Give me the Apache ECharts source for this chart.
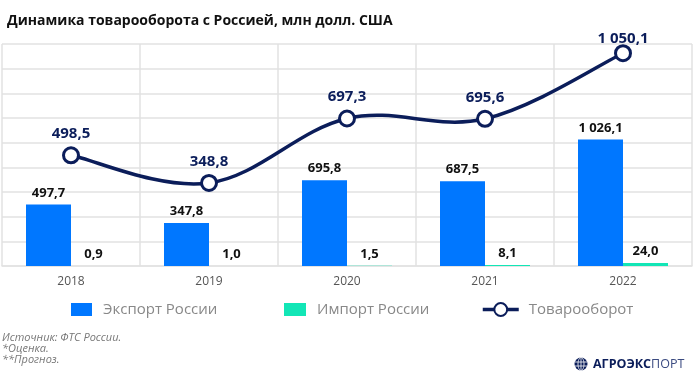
<!DOCTYPE html>
<html>
<head>
<meta charset="utf-8">
<script src="https://cdn.jsdelivr.net/npm/echarts@6/dist/echarts.min.js"></script>
<style>
  html, body { margin: 0; padding: 0; background: #fff; }
  #chart { width: 695px; height: 376px; }
</style>
</head>
<body>
<div id="chart"></div>
<script>
  // данные
  const years = ['2018', '2019', '2020', '2021', '2022'];
  const exportRu = [497.7, 347.8, 695.8, 687.5, 1026.1];
  const importRu = [0.9, 1.0, 1.5, 8.1, 24.0];
  const turnover = [498.5, 348.8, 697.3, 695.6, 1050.1];

  const FONT = '"Open Sans", "Noto Sans", sans-serif';
  const NAVY = '#0b1d5a';

  // 1026.1 -> "1 026,1"
  function fmt(v) {
    const parts = v.toFixed(1).split('.');
    const intPart = parts[0].replace(/\B(?=(\d{3})+(?!\d))/g, ' ');
    return intPart + ',' + parts[1];
  }

  const myChart = echarts.init(document.getElementById('chart'));

  const lineData = turnover.map((v, i) => {
    if (i === turnover.length - 1) {
      return { value: v, label: { distance: -2 } };
    }
    return v;
  });

  // кривая Catmull-Rom через точки товарооборота (координаты берём из осей)
  function renderCurve(params, api) {
    if (params.dataIndex !== 0) return null;
    const pts = turnover.map((v, i) => api.coord([i, v]));
    const t = 0.18;
    let d = 'M' + pts[0][0] + ' ' + pts[0][1];
    for (let i = 0; i < pts.length - 1; i++) {
      const p0 = pts[Math.max(i - 1, 0)];
      const p1 = pts[i];
      const p2 = pts[i + 1];
      const p3 = pts[Math.min(i + 2, pts.length - 1)];
      const c1x = p1[0] + (p2[0] - p0[0]) * t;
      const c1y = p1[1] + (p2[1] - p0[1]) * t;
      const c2x = p2[0] - (p3[0] - p1[0]) * t;
      const c2y = p2[1] - (p3[1] - p1[1]) * t;
      d += ' C' + c1x + ' ' + c1y + ' ' + c2x + ' ' + c2y + ' ' + p2[0] + ' ' + p2[1];
    }
    return {
      type: 'path',
      shape: { pathData: d },
      style: { fill: 'none', stroke: NAVY, lineWidth: 3.5 }
    };
  }

  myChart.setOption({
    animation: false,
    title: {
      text: 'Динамика товарооборота с Россией, млн долл. США',
      left: 2,
      top: 9,
      textStyle: { fontFamily: FONT, fontSize: 14, fontWeight: 'bold', color: '#111' }
    },
    legend: [
      {
        data: ['Экспорт России'], left: 66, top: 297,
        itemWidth: 21, itemHeight: 13, icon: 'rect',
        textStyle: { fontFamily: FONT, fontSize: 15, color: '#888', padding: [0, 0, 0, 6] }
      },
      {
        data: ['Импорт России'], left: 279, top: 297,
        itemWidth: 22, itemHeight: 13, icon: 'rect',
        textStyle: { fontFamily: FONT, fontSize: 15, color: '#888', padding: [0, 0, 0, 6] }
      },
      {
        data: ['Товарооборот'], left: 476, top: 297,
        itemWidth: 36, itemHeight: 16,
        lineStyle: { color: NAVY, width: 3.5, opacity: 1 },
        textStyle: { fontFamily: FONT, fontSize: 15, color: '#888', padding: [0, 0, 0, 5] }
      }
    ],
    grid: { left: 2, right: 3, top: 44, bottom: 110, containLabel: false },
    xAxis: {
      type: 'category',
      data: years,
      axisTick: { show: false },
      axisLine: { lineStyle: { color: '#e2e2e2', width: 1.5 } },
      axisLabel: { fontFamily: FONT, fontSize: 12, color: '#555', margin: 10 },
      splitLine: { show: true, lineStyle: { color: '#e2e2e2', width: 1.5 } }
    },
    yAxis: [
      {
        type: 'value', min: 0, max: 1800, interval: 200,
        axisLabel: { show: false },
        axisLine: { show: false },
        axisTick: { show: false },
        splitLine: { show: true, lineStyle: { color: '#e2e2e2', width: 1.5 } }
      },
      {
        type: 'value', min: -100, max: 1100, interval: 100,
        show: false,
        splitLine: { show: false }
      }
    ],
    series: [
      {
        name: 'Экспорт России',
        type: 'bar',
        barWidth: 45,
        barGap: '0%',
        itemStyle: { color: '#0077ff' },
        label: {
          show: true, position: 'top', distance: 5,
          fontFamily: FONT, fontSize: 13, fontWeight: 'bold', color: '#111',
          formatter: p => fmt(p.value)
        },
        data: exportRu
      },
      {
        name: 'Импорт России',
        type: 'bar',
        barWidth: 45,
        itemStyle: { color: '#12e6b6' },
        label: {
          show: true, position: 'top', distance: 5,
          fontFamily: FONT, fontSize: 13, fontWeight: 'bold', color: '#111',
          formatter: p => fmt(p.value)
        },
        data: importRu
      },
      {
        name: 'curve',
        type: 'custom',
        yAxisIndex: 1,
        silent: true,
        z: 4,
        renderItem: renderCurve,
        data: turnover
      },
      {
        name: 'Товарооборот',
        type: 'line',
        yAxisIndex: 1,
        symbol: 'circle',
        symbolSize: 15,
        z: 5,
        lineStyle: { color: NAVY, width: 3.5, opacity: 0 },
        itemStyle: { color: '#fff', borderColor: NAVY, borderWidth: 3 },
        label: {
          show: true, position: 'top', distance: 5,
          fontFamily: FONT, fontSize: 15, fontWeight: 'bold', color: NAVY,
          formatter: p => fmt(p.value)
        },
        data: lineData
      }
    ],
    graphic: [
      {
        type: 'text', left: 2, top: 332,
        style: { text: 'Источник: ФТС России.', font: 'italic 11px ' + FONT, fill: '#777' }
      },
      {
        type: 'text', left: 2, top: 343,
        style: { text: '*Оценка.', font: 'italic 11px ' + FONT, fill: '#777' }
      },
      {
        type: 'text', left: 2, top: 354,
        style: { text: '**Прогноз.', font: 'italic 11px ' + FONT, fill: '#777' }
      },
      // логотип
      {
        type: 'group', left: 572, top: 355,
        children: [
          { type: 'circle', shape: { cx: 7, cy: 7.5, r: 6.5 }, style: { fill: NAVY } },
          { type: 'line', shape: { x1: 0.5, y1: 5.5, x2: 13.5, y2: 5.5 }, style: { stroke: '#fff', lineWidth: 0.8 } },
          { type: 'line', shape: { x1: 0.5, y1: 9.5, x2: 13.5, y2: 9.5 }, style: { stroke: '#fff', lineWidth: 0.8 } },
          { type: 'line', shape: { x1: 7, y1: 1, x2: 7, y2: 14 }, style: { stroke: '#fff', lineWidth: 0.8 } },
          { type: 'ellipse', shape: { cx: 7, cy: 7.5, rx: 3, ry: 6.5 }, style: { fill: 'none', stroke: '#fff', lineWidth: 0.8 } },
          {
            type: 'text', x: 19, y: 1,
            style: {
              text: '{a|АГРОЭКС}{b|ПОРТ}',
              rich: {
                a: { fontFamily: FONT, fontSize: 12.5, fontWeight: 'bold', fill: NAVY },
                b: { fontFamily: FONT, fontSize: 12.5, fontWeight: 'normal', fill: '#3a4a80' }
              }
            }
          }
        ]
      }
    ]
  });

  window.addEventListener('resize', () => {
    myChart && myChart.resize();
  });
</script>
</body>
</html>
